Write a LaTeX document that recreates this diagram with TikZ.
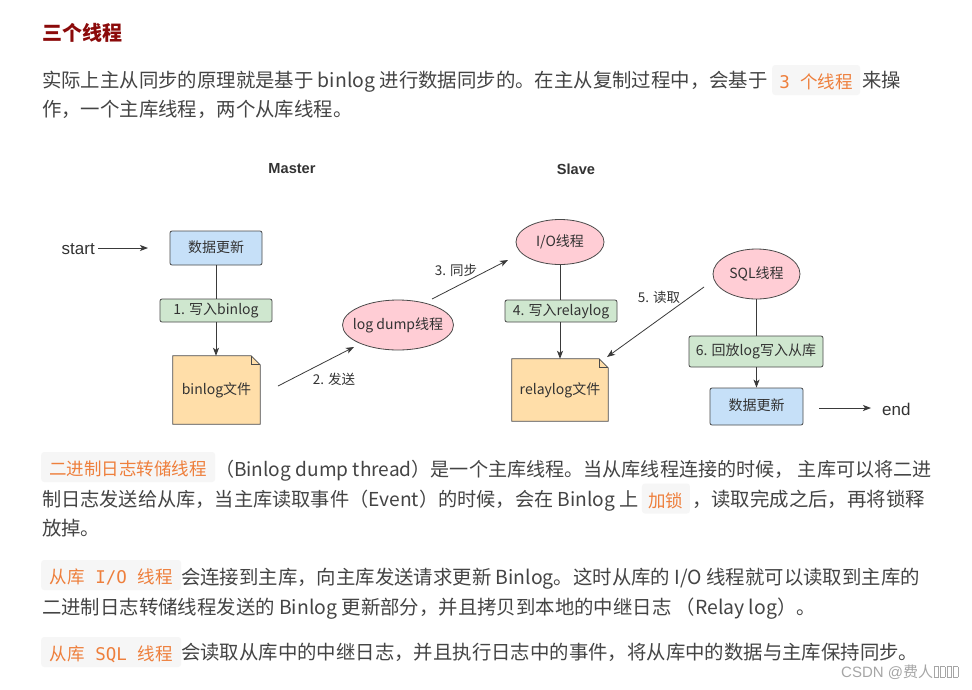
\documentclass[tikz,border=0pt]{standalone}
\usepackage{fontspec}
\setmainfont{Noto Sans CJK SC}
\newfontfamily\monofont{DejaVu Sans Mono}
\newfontfamily\arialfont{Liberation Sans}
\usetikzlibrary{shapes.geometric,arrows.meta,backgrounds}
\definecolor{bodycol}{HTML}{444444}
\definecolor{titlecol}{HTML}{8B0A0A}
\definecolor{codecol}{HTML}{EE7F3C}
\definecolor{codebg}{HTML}{F6F6F6}
\definecolor{dline}{HTML}{3A3A3A}
\definecolor{dborder}{HTML}{4A4A4A}
\definecolor{dtext}{HTML}{333333}
\definecolor{bluefill}{HTML}{C6E0F8}
\definecolor{greenfill}{HTML}{CFE7CF}
\definecolor{orangefill}{HTML}{FFDEA9}
\definecolor{pinkfill}{HTML}{FFCDD5}
\definecolor{wmcol}{HTML}{A6A6A6}
\newcommand{\tofubox}{\kern0.6pt{\fboxsep=0pt\fboxrule=0.6pt\fbox{\rule{0pt}{10pt}\kern4pt}}\kern0.6pt}
\begin{document}
\begin{tikzpicture}[x=1pt,y=-1pt,
  body/.style={anchor=base west, inner sep=0pt, outer sep=0pt, text=bodycol, font=\fontsize{19.4}{23}\selectfont},
  codebox/.style={anchor=west, fill=codebg, rounded corners=3pt, text=codecol, font=\fontsize{17.5}{20}\selectfont, minimum height=30pt, inner xsep=0pt, inner ysep=0pt, text height=18pt, text depth=1pt},
  dnode/.style={draw=dborder, line width=0.8pt, text=dtext, font=\fontsize{14}{16}\selectfont, inner sep=0pt, text height=10.5pt, text depth=2.5pt},
  rbox/.style={dnode, rectangle, rounded corners=2pt},
  ell/.style={dnode, ellipse, fill=pinkfill, inner xsep=-12pt, inner ysep=-4pt},
  doctext/.style={text=dtext, font=\fontsize{14}{16}\selectfont, inner sep=0pt, text height=10.5pt, text depth=2.5pt},
  conn/.style={draw=dline, line width=0.8pt},
  arr/.style={conn, -{Stealth[length=8pt,width=6pt,inset=2pt]}},
  elabel/.style={text=dtext, font=\fontsize{13.5}{16}\selectfont, inner sep=0pt},
  hdr/.style={text=dtext, font=\arialfont\bfseries\fontsize{14.6}{16}\selectfont, inner sep=0pt},
  plain/.style={text=dtext, font=\arialfont\fontsize{17}{20}\selectfont, inner sep=0pt},
]
\useasboundingbox (0,0) rectangle (972,689);

% ---------- text ----------
\node[body, text=titlecol, font=\bfseries\fontsize{20}{24}\selectfont] (title) at (42,40.5) {三个线程};

\node[body] (p1a) at (42,87) {实际上主从同步的原理就是基于 binlog 进行数据同步的。在主从复制过程中，会基于};
\node[codebox, minimum width=88pt] (p1c) at (772,80) {{\monofont 3 }个线程};
\node[body] (p1b) at (862,87) {来操};
\node[body] (p1d) at (42,116) {作，一个主库线程，两个从库线程。};

\node[codebox, minimum width=174pt] (p2c) at (41,467) {二进制日志转储线程};
\node[body, font=\fontsize{19.1}{23}\selectfont] (p2a) at (215,476.5) {（Binlog dump thread）是一个主库线程。当从库线程连接的时候， 主库可以将二进};
\node[body, font=\fontsize{19.2}{23}\selectfont] (p2b) at (42,506) {制日志发送给从库，当主库读取事件（Event）的时候，会在 Binlog 上};
\node[codebox, minimum width=48pt] (p2d) at ([xshift=3pt,yshift=7.5pt]p2b.base east) {加锁};
\node[body, anchor=base west] (p2e) at ([xshift=2pt]p2d.east |- p2b.base) {，读取完成之后，再将锁释};
\node[body] (p2f) at (42,535) {放掉。};

\node[codebox, minimum width=140pt] (p3c) at (41,575) {从库{\monofont\ I/O\ }线程};
\node[body] (p3a) at (181,584) {会连接到主库，向主库发送请求更新 Binlog。这时从库的 I/O 线程就可以读取到主库的};
\node[body] (p3b) at (42,614) {二进制日志转储线程发送的 Binlog 更新部分，并且拷贝到本地的中继日志 （Relay log）。};

\node[codebox, minimum width=140pt] (p4c) at (41,652) {从库{\monofont\ SQL\ }线程};
\node[body] (p4a) at (181,659) {会读取从库中的中继日志，并且执行日志中的事件，将从库中的数据与主库保持同步。};

\node[anchor=base west, inner sep=0pt, text=wmcol, font=\fontsize{15}{18}\selectfont] (wm) at (841,677) {{\arialfont CSDN @}费人\tofubox\tofubox\tofubox\tofubox};

% ---------- diagram ----------
\node[hdr] (master) at (292,169) {Master};
\node[hdr] (slave) at (576,169) {Slave};

\node[plain, anchor=east] (start) at (95,249) {start};
\coordinate (startend) at (148,248);
\draw[arr] ([xshift=3pt]start.east |- startend) -- (startend);

\node[rbox, fill=bluefill, minimum width=92pt, minimum height=34pt] (db1) at (216,248) {数据更新};
\node[rbox, fill=greenfill, minimum width=112pt, minimum height=23pt] (l1) at (216,310.5) {1. 写入binlog};
\node[doctext, minimum width=87pt, minimum height=68pt] (doc1) at (216.5,390) {binlog文件};
\draw[conn] (db1.south) -- (db1.south |- l1.north);
\draw[arr] (l1.south) -- (l1.south |- doc1.north);

\node[ell, minimum width=111pt, minimum height=50pt] (dump) at (398,325) {log dump线程};
\coordinate (a2s) at (278,386);
\coordinate (a2e) at (354,347);
\draw[arr] (a2s) -- (a2e);
\node[elabel] (l2) at (334,379) {2. 发送};

\node[ell, minimum width=88pt, minimum height=45pt] (io) at (560,242) {I/O线程};
\coordinate (a3s) at (432,299);
\coordinate (a3e) at (508,260);
\draw[arr] (a3s) -- (a3e);
\node[elabel] (l3) at (456,270) {3. 同步};

\node[rbox, fill=greenfill, minimum width=112pt, minimum height=22pt] (l4) at (561,311) {4. 写入relaylog};
\node[doctext, minimum width=96pt, minimum height=62pt] (doc2) at (560,390) {relaylog文件};
\draw[conn] (io.south) -- (io.south |- l4.north);
\draw[arr] (doc2.north |- l4.south) -- (doc2.north);

\node[ell, minimum width=87pt, minimum height=50pt] (sql) at (756.5,274) {SQL线程};
\coordinate (a5s) at (704,287);
\coordinate (a5e) at (607,357);
\draw[arr] (a5s) -- (a5e);
\node[elabel] (l5) at (659,297) {5. 读取};

\node[rbox, fill=greenfill, minimum width=134pt, minimum height=31pt] (l6) at (756,351.5) {6. 回放log写入从库};
\node[rbox, fill=bluefill, minimum width=93pt, minimum height=37pt] (db2) at (756.5,406.5) {数据更新};
\draw[conn] (sql.south) -- (sql.south |- l6.north);
\draw[arr] (db2.north |- l6.south) -- (db2.north);

\coordinate (endstart) at (819,408);
\coordinate (endend) at (871,408);
\draw[arr] (endstart) -- (endend);
\node[plain, anchor=west] (endlbl) at (882,409) {end};

\begin{scope}[on background layer]
  \fill[white] (0,0) rectangle (972,689);
  \foreach \d in {doc1,doc2} {
    \draw[draw=dborder, line width=0.8pt, fill=orangefill] (\d.north west) -- ([xshift=-9pt]\d.north east) -- ([yshift=-9pt]\d.north east) -- (\d.south east) -- (\d.south west) -- cycle;
    \draw[draw=dborder, line width=0.8pt] ([xshift=-9pt]\d.north east) -- ([xshift=-9pt,yshift=-9pt]\d.north east) -- ([yshift=-9pt]\d.north east);
  }
\end{scope}
\end{tikzpicture}
\end{document}
